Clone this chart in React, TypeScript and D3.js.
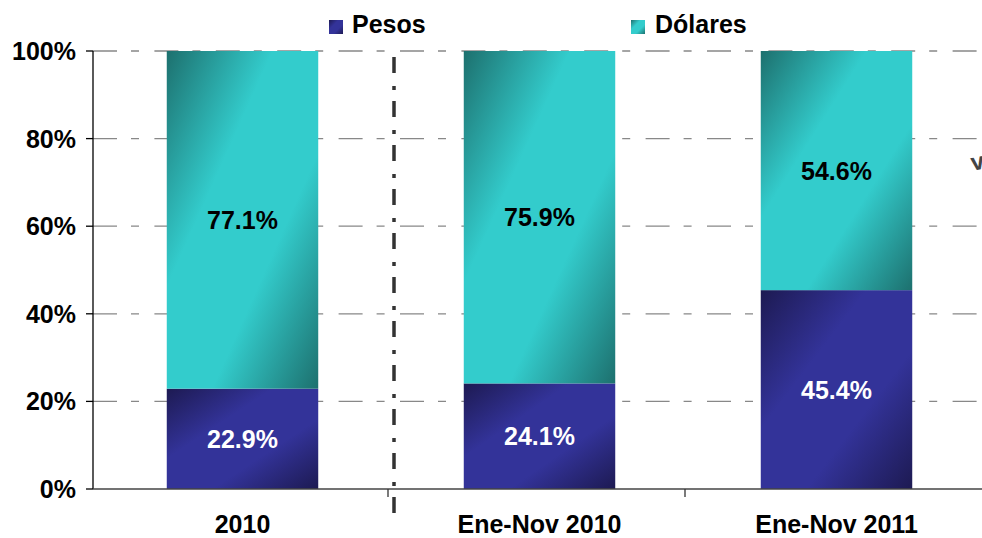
import React from 'react';
import * as d3 from 'd3';

// datos del gráfico
const categories = ['2010', 'Ene-Nov 2010', 'Ene-Nov 2011'];
const pesos = [22.9, 24.1, 45.4];
const dolares = [77.1, 75.9, 54.6];
const yTicks = [0, 20, 40, 60, 80, 100];

const width = 982;
const height = 538;
const margin = { top: 51, left: 93, bottom: 49 };
const font = '"Liberation Sans", Arial, sans-serif';

const App: React.FC = () => {
  const x = d3.scaleBand<string>()
    .domain(categories)
    .range([margin.left + 1, 985])
    .paddingInner(0.49)
    .paddingOuter(0.245);

  const y = d3.scaleLinear()
    .domain([0, 100])
    .range([height - margin.bottom, margin.top]);

  const step = x.step();
  const bw = x.bandwidth();
  const y0 = y(0);

  return (
    <svg width={width} height={height} viewBox={`0 0 ${width} ${height}`}
      style={{ position: 'absolute', left: 0, top: 0, background: '#fff' }}>
      <defs>
        <linearGradient id="gPesos" x1="0" y1="0" x2="1" y2="1">
          <stop offset="0" stopColor="#1d1a52" />
          <stop offset="0.35" stopColor="#333399" />
          <stop offset="0.65" stopColor="#333399" />
          <stop offset="1" stopColor="#1d1a52" />
        </linearGradient>
        <linearGradient id="gDol" x1="0" y1="0" x2="1" y2="1">
          <stop offset="0" stopColor="#1d706e" />
          <stop offset="0.35" stopColor="#33cccc" />
          <stop offset="0.65" stopColor="#33cccc" />
          <stop offset="1" stopColor="#1d706e" />
        </linearGradient>
      </defs>

      {/* líneas de cuadrícula */}
      {yTicks.filter(t => t > 0).map(t => (
        <line key={t} x1={margin.left} x2={width} y1={y(t)} y2={y(t)}
          stroke="#888" strokeWidth={1.3} strokeDasharray="24,14,8,15.4" />
      ))}

      {/* barras */}
      {categories.map((c, i) => {
        const bx = x(c) as number;
        const yp = y(pesos[i]);
        return (
          <g key={c}>
            <rect x={bx} y={yp} width={bw} height={y0 - yp} fill="url(#gPesos)" />
            <rect x={bx} y={y(100)} width={bw} height={yp - y(100)} fill="url(#gDol)" />
            <text x={bx + bw / 2} y={(y0 + yp) / 2 + 9} textAnchor="middle"
              fontFamily={font} fontWeight="bold" fontSize={25} fill="#fff">
              {pesos[i].toFixed(1)}%
            </text>
            <text x={bx + bw / 2} y={(yp + y(100)) / 2 + 9} textAnchor="middle"
              fontFamily={font} fontWeight="bold" fontSize={25} fill="#000">
              {dolares[i].toFixed(1)}%
            </text>
          </g>
        );
      })}

      {/* eje y */}
      <line x1={margin.left} x2={margin.left} y1={y(100)} y2={y0} stroke="#000" strokeWidth={1.3} />
      {yTicks.map(t => (
        <g key={t}>
          <line x1={margin.left - 7} x2={margin.left} y1={y(t)} y2={y(t)} stroke="#000" strokeWidth={1.3} />
          <text x={76} y={y(t) + 9} textAnchor="end" fontFamily={font} fontWeight="bold" fontSize={25}>
            {t}%
          </text>
        </g>
      ))}

      {/* eje x */}
      <line x1={margin.left} x2={width} y1={y0} y2={y0} stroke="#444" strokeWidth={1.5} />
      {categories.map((c, i) => (
        <g key={c}>
          {i > 0 && (
            <line x1={margin.left + i * step - 2} x2={margin.left + i * step - 2} y1={y0} y2={y0 + 8}
              stroke="#333" strokeWidth={1.3} />
          )}
          <text x={(x(c) as number) + bw / 2} y={533} textAnchor="middle"
            fontFamily={font} fontWeight="bold" fontSize={25}>
            {c}
          </text>
        </g>
      ))}

      {/* separador */}
      <line x1={394} x2={394} y1={57} y2={513} stroke="#333" strokeWidth={3.5}
        strokeDasharray="16,13,4,11" />

      {/* leyenda */}
      <rect x={329} y={20} width={14} height={14} fill="url(#gPesos)" />
      <text x={352} y={33} fontFamily={font} fontWeight="bold" fontSize={25}>Pesos</text>
      <rect x={631} y={20} width={14} height={14} fill="url(#gDol)" />
      <text x={655} y={33} fontFamily={font} fontWeight="bold" fontSize={25}>Dólares</text>

      <text x={971} y={170} fontFamily={font} fontWeight="bold" fontSize={24} fill="#444"
        transform="rotate(-10 976 163)">v</text>
    </svg>
  );
};

export default App;
